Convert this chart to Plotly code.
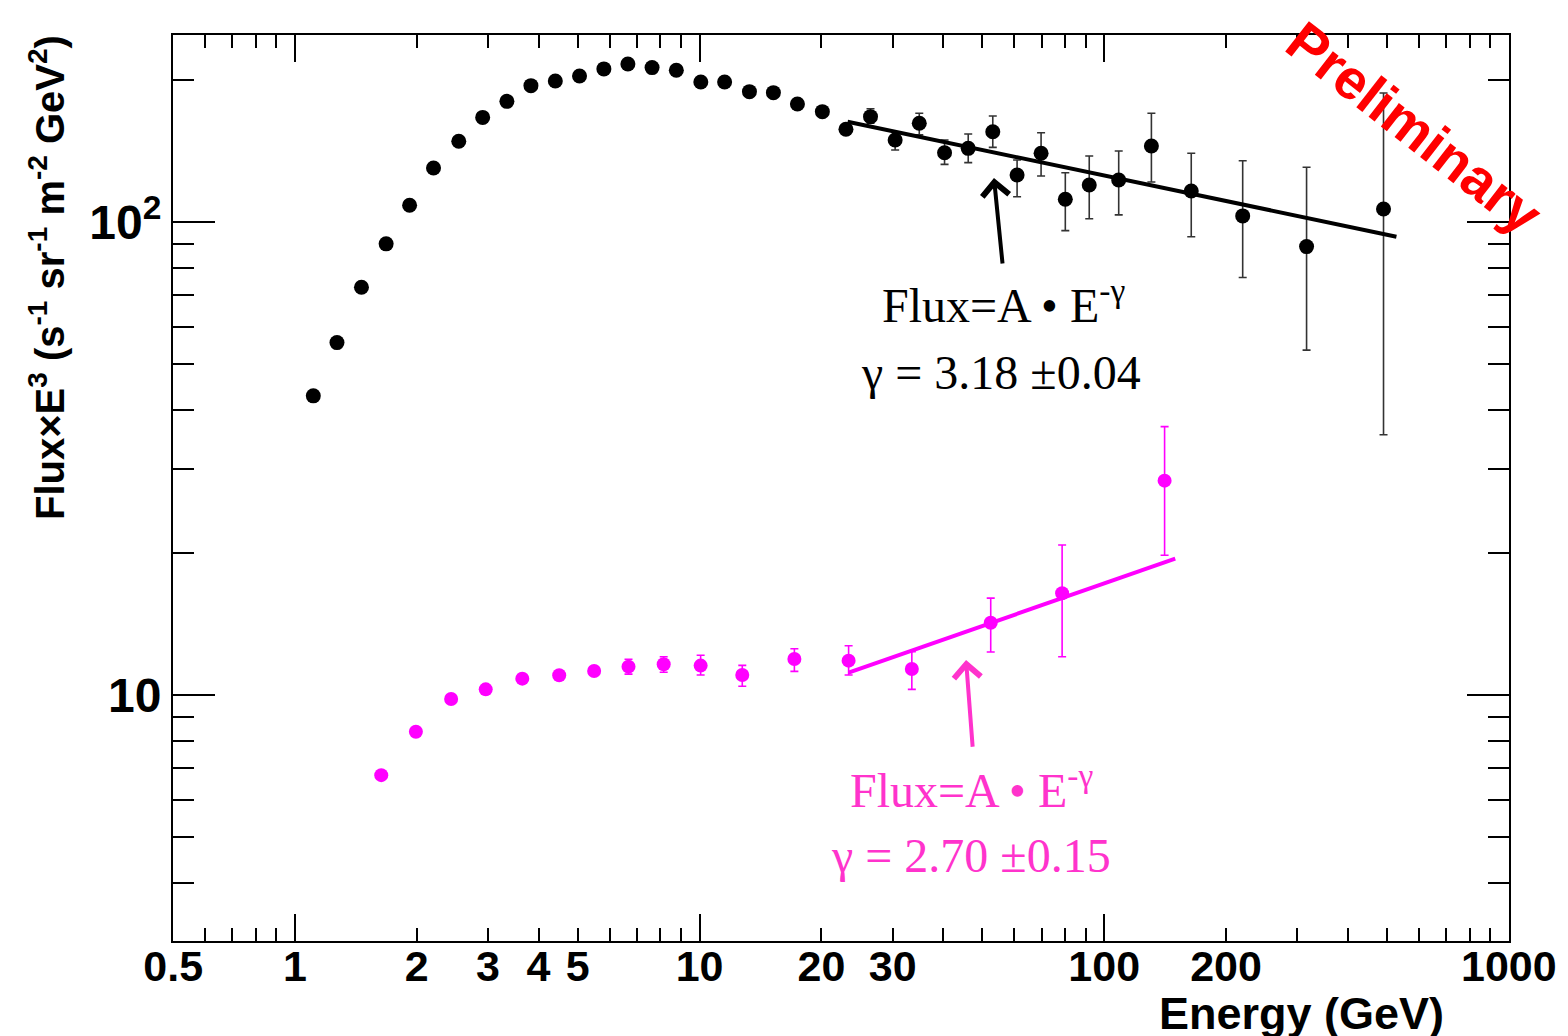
import math
import plotly.graph_objects as go

# ---------------- data ----------------
# all-particle (black) spectrum: energy (GeV) and Flux*E^3
black_energy = [1.11, 1.27, 1.46, 1.68, 1.92, 2.20, 2.54, 2.91, 3.34, 3.83,
                4.40, 5.05, 5.80, 6.65, 7.63, 8.76, 10.07, 11.53, 13.28, 15.22,
                17.45, 20.11, 23.0, 26.45, 30.43, 34.91, 40.31, 46.12, 53.04, 60.91,
                69.82, 80.14, 91.83, 108.6, 130.8, 164.1, 219.9, 316.3, 490.1]
black_flux = [42.9, 55.6, 72.8, 89.9, 108.5, 130.1, 148.1, 166.4, 179.9, 194.2,
              198.7, 203.6, 210.7, 215.8, 212.0, 209.3, 197.7, 197.7, 188.6, 187.7,
              177.6, 171.1, 157.0, 167.0, 149.1, 161.7, 140.1, 143.1, 155.2, 125.7,
              139.7, 111.7, 119.7, 122.7, 144.8, 116.3, 103.0, 88.7, 106.5]
black_err_plus = [0, 0, 0, 0, 0, 0, 0, 0, 0, 0,
                  0, 0, 0, 0, 0, 0, 0, 0, 0, 0,
                  0, 0, 0, 6.6, 6.1, 8.1, 9.0, 10.4, 12.3, 9.5,
                  14.7, 15.4, 18.2, 18.6, 25.0, 23.4, 31.7, 41.8, 80.9]
black_err_minus = [0, 0, 0, 0, 0, 0, 0, 0, 0, 0,
                   0, 0, 0, 0, 0, 0, 0, 0, 0, 0,
                   0, 0, 0, 5.3, 7.1, 8.9, 7.7, 9.6, 11.4, 12.6,
                   14.6, 15.8, 18.1, 19.2, 23.3, 23.2, 26.7, 35.1, 71.0]

# magenta spectrum
pink_energy = [1.634, 1.990, 2.432, 2.961, 3.646, 4.498, 5.488, 6.673, 8.152, 10.06,
               12.75, 17.15, 23.35, 33.46, 52.42, 78.70, 141.0]
pink_flux = [6.77, 8.36, 9.81, 10.28, 10.83, 11.01, 11.24, 11.48, 11.62, 11.54,
             11.02, 11.92, 11.82, 11.35, 14.22, 16.41, 28.39]
pink_err_plus = [0, 0, 0, 0, 0, 0, 0, 0.42, 0.43, 0.60,
                 0.53, 0.61, 0.89, 1.00, 1.81, 4.35, 8.55]
pink_err_minus = [0, 0, 0, 0, 0, 0, 0, 0.41, 0.45, 0.52,
                  0.58, 0.70, 0.80, 1.07, 1.89, 4.36, 8.65]

# power-law fit end points (straight lines in log-log)
black_fit_energy = [23.22, 527.5]
black_fit_flux = [162.9, 93.1]
pink_fit_energy = [23.35, 149.8]
pink_fit_flux = [11.15, 19.42]

# axis ticks
x_tick_vals = [0.5, 1, 2, 3, 4, 5, 10, 20, 30, 100, 200, 1000]
x_tick_text = ["0.5", "1", "2", "3", "4", "5", "10", "20", "30", "100", "200", "1000"]
x_minor_vals = [0.6, 0.7, 0.8, 0.9, 6, 7, 8, 9, 40, 50, 60, 70, 80, 90,
                300, 400, 500, 600, 700, 800, 900]
x_major_long = [1, 10, 100]
y_tick_vals = [10, 100]
y_tick_text = ["10", "10<sup>2</sup>"]
y_minor_vals = [4, 5, 6, 7, 8, 9, 20, 30, 40, 50, 60, 70, 80, 90, 200]

# ---------------- figure ----------------
BLACK = "#000000"
MAG = "#ff00ff"
PINK_TXT = "#ff33cc"
SANS = "Liberation Sans, Arial, Helvetica, sans-serif"
SERIF = "Liberation Serif, Times New Roman, serif"

fig = go.Figure()

fig.add_trace(go.Scatter(
    x=black_energy, y=black_flux, mode="markers",
    marker=dict(color=BLACK, size=15),
    error_y=dict(type="data", symmetric=False, array=black_err_plus,
                 arrayminus=black_err_minus, color="#333333", thickness=1.6, width=4),
    showlegend=False, hoverinfo="x+y"))

fig.add_trace(go.Scatter(
    x=pink_energy, y=pink_flux, mode="markers",
    marker=dict(color=MAG, size=14),
    error_y=dict(type="data", symmetric=False, array=pink_err_plus,
                 arrayminus=pink_err_minus, color=MAG, thickness=1.6, width=4),
    showlegend=False, hoverinfo="x+y"))

fig.add_trace(go.Scatter(
    x=black_fit_energy, y=black_fit_flux, mode="lines",
    line=dict(color=BLACK, width=4), showlegend=False, hoverinfo="skip"))

fig.add_trace(go.Scatter(
    x=pink_fit_energy, y=pink_fit_flux, mode="lines",
    line=dict(color=MAG, width=4), showlegend=False, hoverinfo="skip"))

# dummy trace to carry the overlay axis with long major ticks
fig.add_trace(go.Scatter(x=[], y=[], xaxis="x3", yaxis="y",
                         showlegend=False, hoverinfo="skip"))

xrange = [math.log10(0.5) - 0.0004, 3.0004]
yrange = [0.48, 2.3953]

tickfont = dict(family=SANS, size=43, color=BLACK, weight="bold")

# page body has an 8px default margin, compensated in the figure margins
fig.update_layout(
    width=1568, height=1036,
    margin=dict(l=165, r=67, t=27, b=103),
    paper_bgcolor="white", plot_bgcolor="white",
    showlegend=False,
    xaxis=dict(
        type="log", range=xrange, automargin=False,
        tickmode="array", tickvals=x_tick_vals, ticktext=x_tick_text,
        ticks="inside", ticklen=13, tickwidth=1.5, tickcolor=BLACK,
        showline=True, linecolor=BLACK, linewidth=2, mirror="ticks",
        showgrid=False, zeroline=False, tickfont=tickfont,
        ticklabelstandoff=-14,
        minor=dict(tickvals=x_minor_vals, ticks="inside", ticklen=13,
                   tickwidth=1.5, tickcolor=BLACK, showgrid=False),
    ),
    xaxis3=dict(
        type="log", range=xrange, overlaying="x", anchor="y", side="bottom",
        automargin=False,
        tickmode="array", tickvals=x_major_long,
        ticks="inside", ticklen=27, tickwidth=1.5, tickcolor=BLACK,
        showticklabels=False, showline=False, mirror="ticks",
        showgrid=False, zeroline=False,
    ),
    yaxis=dict(
        type="log", range=yrange, automargin=False,
        tickmode="array", tickvals=y_tick_vals, ticktext=y_tick_text,
        ticks="inside", ticklen=42, tickwidth=1.5, tickcolor=BLACK,
        showline=True, linecolor=BLACK, linewidth=2, mirror="ticks",
        showgrid=False, zeroline=False,
        tickfont=dict(family=SANS, size=48, color=BLACK, weight="bold"),
        minor=dict(tickvals=y_minor_vals, ticks="inside", ticklen=21,
                   tickwidth=1.5, tickcolor=BLACK, showgrid=False),
    ),
)

annotations = [
    # axis titles
    dict(text="Energy (GeV)", xref="paper", yref="paper", x=0.845, y=-0.0795,
         xanchor="center", yanchor="middle", showarrow=False,
         font=dict(family=SANS, size=45, color=BLACK, weight="bold")),
    dict(text="Flux×E<sup>3</sup> (s<sup>-1</sup> sr<sup>-1</sup> m<sup>-2</sup> GeV<sup>2</sup>)",
         xref="paper", yref="paper", x=-0.0943, y=0.7318, textangle=-90,
         xanchor="center", yanchor="middle", showarrow=False,
         font=dict(family=SANS, size=40, color=BLACK, weight="bold")),
    # Preliminary
    dict(text="Preliminary", xref="paper", yref="paper", x=0.9290, y=0.898,
         textangle=38, xanchor="center", yanchor="middle", showarrow=False,
         font=dict(family=SANS, size=56, color="#ff0000", weight="bold")),
    # black fit annotation
    dict(text="Flux=A • E<sup>-γ</sup>", xref="paper", yref="paper", x=0.622, y=0.705,
         xanchor="center", yanchor="middle", showarrow=False,
         font=dict(family=SERIF, size=48, color=BLACK)),
    dict(text="γ = 3.18 ±0.04", xref="paper", yref="paper", x=0.6198, y=0.6277,
         xanchor="center", yanchor="middle", showarrow=False,
         font=dict(family=SERIF, size=48, color=BLACK)),
    dict(text="", xref="paper", yref="paper", x=0.6145, y=0.8422,
         ax=8.7, ay=87, axref="pixel", ayref="pixel", showarrow=True,
         arrowhead=4, arrowsize=1.3, arrowwidth=4, arrowcolor=BLACK, standoff=0),
    # pink fit annotation
    dict(text="Flux=A • E<sup>-γ</sup>", xref="paper", yref="paper", x=0.598, y=0.1697,
         xanchor="center", yanchor="middle", showarrow=False,
         font=dict(family=SERIF, size=48, color=PINK_TXT)),
    dict(text="γ = 2.70 ±0.15", xref="paper", yref="paper", x=0.597, y=0.0946,
         xanchor="center", yanchor="middle", showarrow=False,
         font=dict(family=SERIF, size=48, color=PINK_TXT)),
    dict(text="", xref="paper", yref="paper", x=0.5936, y=0.3102,
         ax=6.7, ay=88.3, axref="pixel", ayref="pixel", showarrow=True,
         arrowhead=4, arrowsize=1.3, arrowwidth=4, arrowcolor=PINK_TXT, standoff=0),
]
fig.update_layout(annotations=annotations)

fig.write_html("out.html")
